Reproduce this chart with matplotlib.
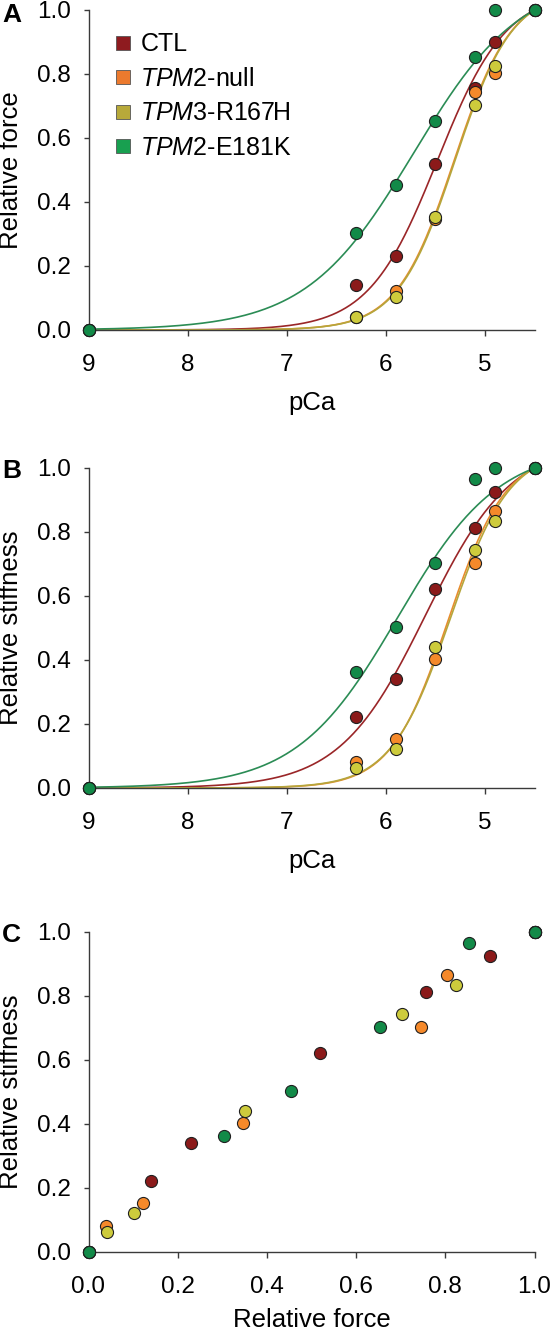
import numpy as np
import matplotlib.pyplot as plt
from matplotlib.lines import Line2D

plt.rcParams['font.family'] = ['Liberation Sans', 'DejaVu Sans']
plt.rcParams['mathtext.fontset'] = 'custom'
plt.rcParams['mathtext.rm'] = 'Liberation Sans'
plt.rcParams['mathtext.it'] = 'Liberation Sans:italic'

# groups and colours
groups = ['CTL', r'$\mathit{TPM2}$-null', r'$\mathit{TPM3}$-R167H', r'$\mathit{TPM2}$-E181K']
dot_colors = ['#8B1A1A', '#F5892A', '#CDCB3C', '#128A48']
legend_colors = ['#8E1B1F', '#EC7A2E', '#B7A93A', '#18A050']
line_colors = ['#9A2628', '#E88C2E', '#B5A63C', '#2B8C55']

pca = [9.0, 6.3, 5.9, 5.5, 5.1, 4.9, 4.5]

# relative force (panel A)
force_ctl = [0.0, 0.14, 0.23, 0.52, 0.756, 0.90, 1.0]
force_null = [0.0, 0.04, 0.123, 0.346, 0.745, 0.804, 1.0]
force_r167h = [0.0, 0.042, 0.102, 0.352, 0.703, 0.825, 1.0]
force_e181k = [0.0, 0.304, 0.453, 0.654, 0.854, 1.0, 1.0]

# relative stiffness (panel B)
stiff_ctl = [0.0, 0.221, 0.34, 0.621, 0.813, 0.924, 1.0]
stiff_null = [0.0, 0.08, 0.152, 0.402, 0.702, 0.866, 1.0]
stiff_r167h = [0.0, 0.062, 0.121, 0.442, 0.744, 0.834, 1.0]
stiff_e181k = [0.0, 0.363, 0.503, 0.704, 0.965, 1.0, 1.0]

# Hill fit parameters (pCa50, nH)
pca50_force = [5.48, 5.31, 5.30, 5.72]
nh_force = [1.25, 1.5, 1.5, 0.8]
pca50_stiff = [5.60, 5.37, 5.35, 5.88]
nh_stiff = [1.0, 1.5, 1.45, 0.85]

force = [force_ctl, force_null, force_r167h, force_e181k]
stiff = [stiff_ctl, stiff_null, stiff_r167h, stiff_e181k]


def hill(p, p50, n):
    h = 1.0 / (1.0 + 10 ** (n * (np.asarray(p) - p50)))
    h_max = 1.0 / (1.0 + 10 ** (n * (4.5 - p50)))
    return h / h_max


W, H = 551, 1332
fig = plt.figure(figsize=(W / 100, H / 100), dpi=100)

left = 88.5 / W
width = 446 / W
height = 320 / H
ax_a = fig.add_axes([left, 1 - 330 / H, width, height])
ax_b = fig.add_axes([left, 1 - 788 / H, width, height])
ax_c = fig.add_axes([left, 1 - 1252 / H, width, height])

spine_col = '#3a3a3a'
tick_fs = 17.5
label_fs = 18.5


def style(ax):
    for s in ['top', 'right']:
        ax.spines[s].set_visible(False)
    for s in ['left', 'bottom']:
        ax.spines[s].set_color(spine_col)
        ax.spines[s].set_linewidth(1.0)
    ax.tick_params(axis='y', direction='out', length=3.5, width=1, color=spine_col,
                   labelsize=tick_fs, pad=9)
    ax.tick_params(axis='x', direction='out', length=4, width=1, color=spine_col,
                   labelsize=tick_fs, pad=13)
    ax.set_ylim(0, 1)
    ax.set_yticks([0, 0.2, 0.4, 0.6, 0.8, 1.0])
    ax.set_yticklabels(['0.0', '0.2', '0.4', '0.6', '0.8', '1.0'])


p_fine = np.linspace(9, 4.5, 400)

for ax, data, p50s, nhs, ylab in [(ax_a, force, pca50_force, nh_force, 'Relative force'),
                                  (ax_b, stiff, pca50_stiff, nh_stiff, 'Relative stiffness')]:
    style(ax)
    for i in range(4):
        ax.plot(p_fine, hill(p_fine, p50s[i], nhs[i]), color=line_colors[i], lw=1.2, zorder=2)
    for i in range(4):
        ax.plot(pca, data[i], 'o', ms=8.7, mfc=dot_colors[i], mec='#202020', mew=0.8,
                clip_on=False, zorder=3)
    ax.set_xlim(9, 4.5)
    ax.set_xticks([9, 8, 7, 6, 5])
    ax.set_xlabel('pCa', fontsize=label_fs)
    ax.xaxis.set_label_coords(0.5, -0.19)
    ax.set_ylabel(ylab, fontsize=label_fs)
    ax.yaxis.set_label_coords(-0.146, 0.5)

# panel C: stiffness vs force
style(ax_c)
for i in range(4):
    ax_c.plot(force[i], stiff[i], 'o', ms=8.7, mfc=dot_colors[i], mec='#202020', mew=0.8,
              clip_on=False, zorder=3)
ax_c.set_xlim(0, 1)
ax_c.set_xticks([0, 0.2, 0.4, 0.6, 0.8, 1.0])
ax_c.set_xticklabels(['0.0', '0.2', '0.4', '0.6', '0.8', '1.0'])
ax_c.set_xlabel('Relative force', fontsize=label_fs)
ax_c.xaxis.set_label_coords(0.5, -0.175)
ax_c.set_ylabel('Relative stiffness', fontsize=label_fs)
ax_c.yaxis.set_label_coords(-0.146, 0.5)

# legend
handles = [Line2D([], [], marker='s', ls='None', ms=10, mfc=legend_colors[i],
                  mec='#555555', mew=0.6) for i in range(4)]
ax_a.legend(handles, groups, loc='upper left', bbox_to_anchor=(0.06, 0.93),
            frameon=False, fontsize=18, handlelength=0.6, handletextpad=0.4,
            labelspacing=0.42, borderpad=0, borderaxespad=0)

# panel letters
for letter, yc in [('A', 15), ('B', 471), ('C', 935)]:
    fig.text(2 / W, 1 - yc / H, letter, fontsize=19, fontweight='bold', ha='left', va='center')

fig.savefig('out.png', dpi=100)
